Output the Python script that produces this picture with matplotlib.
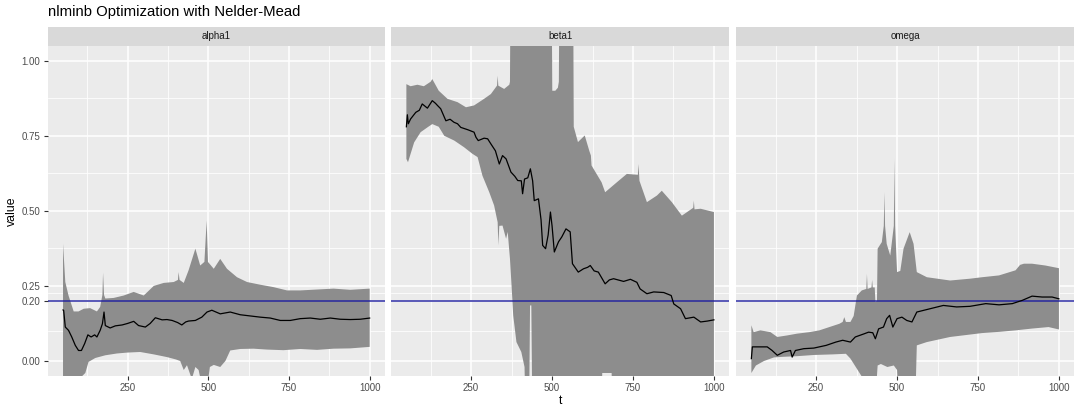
import numpy as np
import matplotlib
matplotlib.use('Agg')
from matplotlib import pyplot as plt

plt.rcParams['font.family'] = ['Liberation Sans', 'DejaVu Sans']

#---------------------------------------------------------------------------------------
# Values
#---------------------------------------------------------------------------------------

panel_names = ['alpha1', 'beta1', 'omega']
true_value = 0.2

y_ticks = [0.00, 0.20, 0.25, 0.50, 0.75, 1.00]
y_tick_labels = ['0.00', '0.20', '0.25', '0.50', '0.75', '1.00']
x_ticks = [250, 500, 750, 1000]

# alpha1
alpha_t = [50, 52, 57, 67, 77, 88, 98, 107, 117, 127, 137, 148, 155, 165, 172, 177, 181, 196, 212, 233,
           250, 269, 284, 305, 320, 336, 357, 372, 388, 405, 418, 430, 439, 460, 480, 496, 511, 537, 568, 599,
           630, 661, 692, 723, 754, 785, 816, 847, 878, 909, 940, 971, 1000]
alpha_mean = [0.17, 0.168, 0.113, 0.102, 0.08, 0.052, 0.035, 0.035, 0.058, 0.087, 0.08, 0.087, 0.08, 0.102, 0.124, 0.163, 0.118, 0.11, 0.117, 0.12,
              0.125, 0.132, 0.118, 0.113, 0.125, 0.144, 0.137, 0.138, 0.135, 0.128, 0.12, 0.13, 0.133, 0.135, 0.146, 0.163, 0.169, 0.157, 0.163, 0.154,
              0.15, 0.146, 0.143, 0.135, 0.135, 0.141, 0.143, 0.139, 0.143, 0.139, 0.138, 0.139, 0.143]
alpha_hi_t = [50, 57, 67, 83, 98, 114, 134, 155, 165, 172, 174, 177, 181, 207, 238, 269, 300, 331, 362, 393,
              406, 408, 411, 424, 439, 460, 475, 488, 495, 499, 517, 537, 558, 589, 620, 661, 702, 744, 785, 837,
              888, 940, 1000]
alpha_hi = [0.39, 0.263, 0.218, 0.165, 0.165, 0.174, 0.176, 0.165, 0.18, 0.22, 0.294, 0.22, 0.208, 0.21, 0.218, 0.23, 0.218, 0.25, 0.26, 0.263,
            0.27, 0.296, 0.27, 0.26, 0.302, 0.374, 0.318, 0.33, 0.468, 0.33, 0.307, 0.34, 0.307, 0.279, 0.263, 0.254, 0.246, 0.235, 0.235, 0.238,
            0.241, 0.237, 0.241]
alpha_lo_t = [50, 60, 80, 100, 119, 129, 150, 181, 217, 249, 289, 331, 372, 400, 413, 424, 434, 449, 460, 470,
              480, 490, 495, 505, 517, 537, 553, 568, 599, 640, 682, 733, 785, 837, 888, 940, 1000]
alpha_lo = [-0.2, -0.12, -0.08, -0.06, -0.04, -0.003, 0.01, 0.019, 0.025, 0.028, 0.03, 0.022, 0.013, 0.005, 0.0, -0.03, -0.014, -0.06, -0.02, -0.03,
            -0.08, -0.15, -0.1, -0.02, -0.013, -0.02, 0.0, 0.035, 0.04, 0.041, 0.038, 0.036, 0.04, 0.037, 0.041, 0.042, 0.047]

# beta1
beta_t = [50, 53, 56, 63, 79, 90, 99, 115, 130, 140, 146, 156, 172, 185, 197, 208, 218, 240, 259, 265,
          272, 290, 301, 311, 325, 337, 347, 358, 373, 385, 394, 405, 409, 415, 425, 433, 440, 445, 458, 466,
          471, 480, 488, 495, 500, 507, 520, 530, 543, 556, 563, 572, 581, 597, 610, 618, 630, 643, 664, 677,
          690, 721, 742, 762, 772, 793, 814, 845, 868, 876, 897, 912, 938, 959, 980, 1000]
beta_mean = [0.78, 0.82, 0.79, 0.806, 0.828, 0.835, 0.856, 0.842, 0.867, 0.858, 0.851, 0.84, 0.80, 0.805, 0.795, 0.79, 0.778, 0.77, 0.762, 0.745,
             0.734, 0.742, 0.74, 0.723, 0.70, 0.656, 0.684, 0.673, 0.629, 0.615, 0.601, 0.60, 0.557, 0.606, 0.61, 0.64, 0.60, 0.534, 0.54, 0.47,
             0.385, 0.374, 0.42, 0.496, 0.45, 0.363, 0.397, 0.413, 0.44, 0.43, 0.324, 0.31, 0.296, 0.307, 0.312, 0.318, 0.30, 0.296, 0.257, 0.27,
             0.274, 0.265, 0.272, 0.262, 0.24, 0.224, 0.23, 0.228, 0.218, 0.19, 0.174, 0.141, 0.146, 0.13, 0.133, 0.137]
beta_hi_t = [50, 63, 84, 104, 125, 130, 150, 177, 208, 234, 259, 290, 311, 330, 332, 334, 352, 368, 370, 372,
             499, 501, 510, 518, 521, 523, 565, 567, 580, 601, 615, 620, 622, 653, 664, 700, 731, 765, 767, 770,
             793, 824, 839, 870, 901, 936, 938, 940, 959, 1000]
beta_hi = [0.922, 0.915, 0.92, 0.915, 0.93, 0.939, 0.90, 0.873, 0.862, 0.845, 0.851, 0.873, 0.889, 0.917, 0.95, 0.917, 0.906, 0.92, 0.93, 1.3,
           1.3, 0.90, 0.90, 0.91, 0.93, 1.3, 1.3, 0.78, 0.729, 0.751, 0.70, 0.684, 0.651, 0.595, 0.562, 0.595, 0.623, 0.62, 0.656, 0.6,
           0.529, 0.551, 0.567, 0.529, 0.484, 0.51, 0.534, 0.505, 0.507, 0.496]
beta_lo_t = [50, 55, 74, 94, 115, 130, 150, 167, 198, 228, 254, 270, 285, 306, 321, 332, 334, 337, 347, 358,
             363, 370, 375, 380, 390, 405, 415, 420, 428, 432, 436, 440, 650, 655, 663, 684, 690, 1000]
beta_lo = [0.673, 0.662, 0.728, 0.762, 0.778, 0.789, 0.78, 0.75, 0.734, 0.712, 0.69, 0.679, 0.617, 0.562, 0.518, 0.462, 0.385, 0.45, 0.451, 0.407,
           0.43, 0.34, 0.25, 0.152, 0.063, 0.03, -0.02, -0.3, -0.3, 0.185, 0.185, -0.3, -0.3, -0.04, -0.04, -0.04, -0.3, -0.3]

# omega
omega_t = [50, 53, 58, 78, 99, 114, 130, 150, 171, 176, 186, 212, 243, 281, 311, 332, 356, 371, 397, 412,
           425, 433, 443, 458, 468, 477, 487, 500, 515, 530, 546, 561, 602, 643, 684, 725, 774, 815, 856, 887,
           917, 948, 979, 1000]
omega_mean = [0.008, 0.047, 0.047, 0.047, 0.047, 0.035, 0.019, 0.03, 0.035, 0.013, 0.035, 0.041, 0.043, 0.052, 0.063, 0.069, 0.063, 0.08, 0.09, 0.096,
              0.094, 0.074, 0.107, 0.113, 0.141, 0.152, 0.113, 0.141, 0.146, 0.135, 0.13, 0.163, 0.174, 0.185, 0.18, 0.182, 0.191, 0.187, 0.191, 0.202,
              0.216, 0.213, 0.213, 0.207]
omega_hi_t = [50, 57, 78, 109, 130, 160, 191, 229, 260, 291, 322, 332, 337, 342, 356, 366, 376, 391, 405, 407,
              409, 421, 423, 425, 431, 433, 438, 440, 453, 459, 461, 463, 468, 479, 490, 492, 494, 500, 510, 520,
              539, 551, 561, 592, 664, 725, 763, 815, 866, 880, 892, 917, 958, 1000]
omega_hi = [0.119, 0.096, 0.102, 0.096, 0.08, 0.085, 0.091, 0.096, 0.102, 0.113, 0.124, 0.13, 0.146, 0.13, 0.13, 0.15, 0.218, 0.235, 0.24, 0.29,
            0.24, 0.245, 0.27, 0.245, 0.245, 0.196, 0.2, 0.374, 0.396, 0.45, 0.562, 0.45, 0.39, 0.351, 0.45, 0.673, 0.45, 0.296, 0.30, 0.374,
            0.429, 0.39, 0.296, 0.279, 0.268, 0.274, 0.279, 0.285, 0.302, 0.32, 0.324, 0.324, 0.318, 0.309]
omega_lo_t = [50, 64, 89, 120, 150, 191, 243, 301, 342, 356, 376, 390, 396, 436, 440, 450, 470, 490, 500, 505,
              520, 556, 561, 592, 630, 664, 725, 763, 815, 866, 917, 968, 1000]
omega_lo = [-0.04, -0.015, 0.0, 0.012, 0.014, 0.016, 0.02, 0.022, 0.024, 0.008, -0.026, -0.05, -0.08, -0.08, -0.015, -0.01, -0.02, -0.015, -0.03, -0.15,
            -0.15, -0.15, 0.052, 0.063, 0.072, 0.08, 0.088, 0.093, 0.097, 0.102, 0.108, 0.113, 0.105]

series = {
    'alpha1': (alpha_t, alpha_mean, alpha_hi_t, alpha_hi, alpha_lo_t, alpha_lo),
    'beta1': (beta_t, beta_mean, beta_hi_t, beta_hi, beta_lo_t, beta_lo),
    'omega': (omega_t, omega_mean, omega_hi_t, omega_hi, omega_lo_t, omega_lo),
}

#---------------------------------------------------------------------------------------
# Layout (pixels of the 1080x415 picture)
#---------------------------------------------------------------------------------------

W, H = 1080, 415
fig = plt.figure(figsize=(W / 100, H / 100), dpi=100)

panels_px = [(47.7, 385.0), (391.0, 729.3), (736.0, 1074.3)]
strip_top, plot_top, plot_bottom = 26.7, 45.7, 376.0

def px_box(x0, x1, y0, y1):
    return [x0 / W, 1 - y1 / H, (x1 - x0) / W, (y1 - y0) / H]

for i, (name, (x0, x1)) in enumerate(zip(panel_names, panels_px)):
    t, m, hi_t, hi, lo_t, lo = [np.asarray(a, dtype=float) for a in series[name]]

    ax = fig.add_axes(px_box(x0, x1, plot_top, plot_bottom))
    ax.set_facecolor('#EBEBEB')
    for s in ax.spines.values():
        s.set_visible(False)
    ax.set_xlim(2.5, 1047.5)
    ax.set_ylim(-0.05, 1.05)

    ax.set_xticks(x_ticks)
    ax.set_xticklabels([str(v) for v in x_ticks])
    ax.set_xticks([125, 375, 625, 875], minor=True)
    ax.set_yticks(y_ticks)
    ax.set_yticks([0.1, 0.225, 0.375, 0.625, 0.875], minor=True)

    ax.set_axisbelow(True)
    ax.grid(which='major', color='white', lw=1.1)
    ax.grid(which='minor', color='white', lw=0.55)
    ax.tick_params(which='minor', length=0)
    ax.tick_params(which='major', length=3.2, width=0.8, color='#333333',
                   labelsize=7, labelcolor='#4D4D4D', pad=2)
    if i == 0:
        ax.set_yticklabels(y_tick_labels)
    else:
        ax.tick_params(axis='y', which='major', length=0, labelleft=False)

    # ribbon, reference line, estimate
    ax.fill(np.r_[hi_t, lo_t[::-1]], np.r_[hi, lo[::-1]], color='#8D8D8D', lw=0, zorder=2)
    ax.axhline(true_value, color='#2020a0', alpha=0.8, lw=1.3, zorder=3)
    ax.plot(t, m, color='black', lw=0.9, zorder=4)

    # facet strip
    sax = fig.add_axes(px_box(x0, x1, strip_top, plot_top))
    sax.set_facecolor('#D9D9D9')
    sax.set_xticks([])
    sax.set_yticks([])
    for s in sax.spines.values():
        s.set_visible(False)
    sax.text(0.5, 0.5, name, ha='center', va='center', fontsize=7, color='#1A1A1A',
             transform=sax.transAxes)

fig.text(47.5 / W, 1 - 12 / H, 'nlminb Optimization with Nelder-Mead', ha='left', va='center',
         fontsize=10.7, color='black')
fig.text(12 / W, 1 - 211 / H, 'value', rotation=90, ha='center', va='center', fontsize=8.8, color='black')
fig.text(561 / W, 1 - 401 / H, 't', ha='center', va='center', fontsize=8.8, color='black')

fig.savefig('out.png', dpi=100)
